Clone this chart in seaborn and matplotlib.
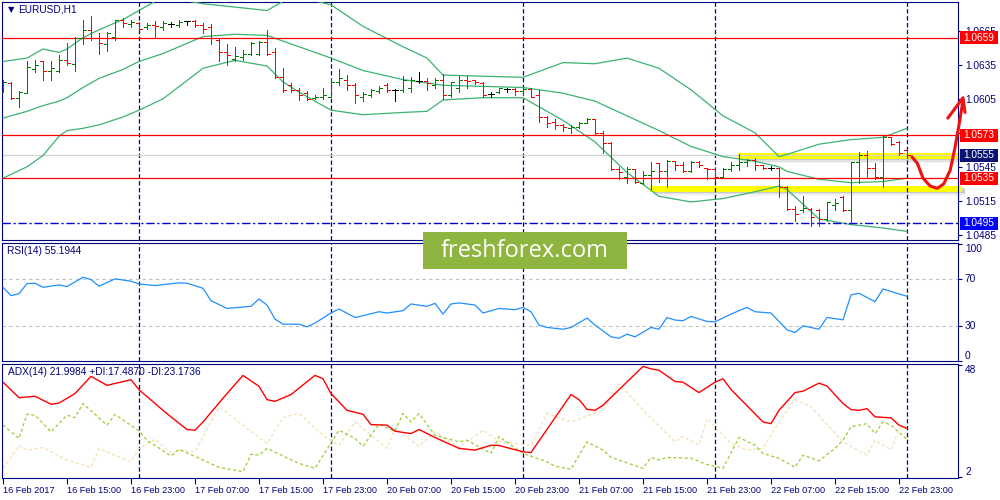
import numpy as np
import pandas as pd
import matplotlib
matplotlib.use("Agg")
import matplotlib.pyplot as plt
import matplotlib.transforms as mtransforms
from matplotlib.patches import Rectangle
import seaborn as sns

# EURUSD H1 bars, 16 Feb 07:00 .. 23 Feb 00:00
open_ = [1.0611, 1.0619, 1.0606, 1.0610, 1.0631, 1.0638, 1.0630, 1.0630, 1.0639, 1.0636,
         1.0659, 1.0666, 1.0659, 1.0653, 1.0660, 1.0675, 1.0671, 1.0672, 1.0668, 1.0670,
         1.0668, 1.0671, 1.0670, 1.0674, 1.0674, 1.0670, 1.0668, 1.0657, 1.0646, 1.0640,
         1.0642, 1.0645, 1.0645, 1.0655, 1.0646, 1.0624, 1.0617, 1.0613, 1.0610, 1.0606,
         1.0607, 1.0607, 1.0620, 1.0622, 1.0617, 1.0607, 1.0608, 1.0612, 1.0617, 1.0613,
         1.0613, 1.0615, 1.0621, 1.0621, 1.0617, 1.0622, 1.0608, 1.0615, 1.0622, 1.0622,
         1.0619, 1.0609, 1.0611, 1.0614, 1.0614, 1.0612, 1.0614, 1.0608, 1.0589, 1.0585,
         1.0582, 1.0579, 1.0580, 1.0584, 1.0587, 1.0575, 1.0566, 1.0543, 1.0536, 1.0543,
         1.0531, 1.0538, 1.0548, 1.0541, 1.0550, 1.0547, 1.0541, 1.0549, 1.0544, 1.0543,
         1.0536, 1.0543, 1.0547, 1.0549, 1.0551, 1.0547, 1.0544, 1.0544, 1.0527, 1.0508,
         1.0507, 1.0508, 1.0507, 1.0499, 1.0511, 1.0518, 1.0507, 1.0549, 1.0555, 1.0544,
         1.0536, 1.0571, 1.0567, 1.0560]
high_ = [1.0622, 1.0620, 1.0612, 1.0638, 1.0639, 1.0638, 1.0638, 1.0644, 1.0654, 1.0660,
         1.0675, 1.0678, 1.0663, 1.0664, 1.0675, 1.0676, 1.0675, 1.0673, 1.0672, 1.0674,
         1.0674, 1.0673, 1.0675, 1.0674, 1.0675, 1.0672, 1.0671, 1.0659, 1.0653, 1.0651,
         1.0648, 1.0655, 1.0656, 1.0666, 1.0650, 1.0632, 1.0619, 1.0615, 1.0612, 1.0608,
         1.0615, 1.0623, 1.0631, 1.0626, 1.0619, 1.0611, 1.0614, 1.0616, 1.0619, 1.0614,
         1.0625, 1.0624, 1.0629, 1.0623, 1.0623, 1.0627, 1.0620, 1.0625, 1.0625, 1.0622,
         1.0620, 1.0611, 1.0615, 1.0615, 1.0615, 1.0615, 1.0615, 1.0613, 1.0590, 1.0587,
         1.0583, 1.0582, 1.0585, 1.0588, 1.0587, 1.0577, 1.0567, 1.0545, 1.0545, 1.0543,
         1.0541, 1.0549, 1.0548, 1.0551, 1.0550, 1.0549, 1.0550, 1.0550, 1.0544, 1.0544,
         1.0544, 1.0549, 1.0556, 1.0552, 1.0553, 1.0547, 1.0546, 1.0544, 1.0528, 1.0510,
         1.0519, 1.0509, 1.0508, 1.0514, 1.0517, 1.0519, 1.0549, 1.0558, 1.0559, 1.0548,
         1.0573, 1.0571, 1.0568, 1.0561]
low_ = [1.0611, 1.0605, 1.0598, 1.0610, 1.0629, 1.0622, 1.0622, 1.0629, 1.0635, 1.0630,
        1.0653, 1.0657, 1.0645, 1.0647, 1.0657, 1.0668, 1.0668, 1.0666, 1.0667, 1.0659,
        1.0666, 1.0668, 1.0668, 1.0670, 1.0668, 1.0663, 1.0653, 1.0638, 1.0635, 1.0638,
        1.0639, 1.0644, 1.0644, 1.0644, 1.0623, 1.0611, 1.0611, 1.0604, 1.0604, 1.0605,
        1.0605, 1.0607, 1.0617, 1.0613, 1.0601, 1.0603, 1.0607, 1.0610, 1.0611, 1.0603,
        1.0611, 1.0611, 1.0619, 1.0613, 1.0615, 1.0605, 1.0607, 1.0611, 1.0615, 1.0618,
        1.0607, 1.0607, 1.0610, 1.0611, 1.0608, 1.0608, 1.0607, 1.0585, 1.0580, 1.0578,
        1.0577, 1.0575, 1.0579, 1.0584, 1.0573, 1.0557, 1.0542, 1.0534, 1.0531, 1.0531,
        1.0530, 1.0525, 1.0532, 1.0527, 1.0542, 1.0540, 1.0540, 1.0545, 1.0534, 1.0533,
        1.0535, 1.0541, 1.0542, 1.0546, 1.0542, 1.0543, 1.0542, 1.0518, 1.0507, 1.0497,
        1.0505, 1.0493, 1.0493, 1.0497, 1.0507, 1.0506, 1.0495, 1.0531, 1.0535, 1.0534,
        1.0527, 1.0564, 1.0555, 1.0553]
close_ = [1.0620, 1.0606, 1.0611, 1.0633, 1.0635, 1.0630, 1.0632, 1.0639, 1.0637, 1.0659,
          1.0666, 1.0659, 1.0654, 1.0663, 1.0675, 1.0672, 1.0673, 1.0667, 1.0670, 1.0669,
          1.0672, 1.0671, 1.0673, 1.0674, 1.0670, 1.0667, 1.0659, 1.0646, 1.0644, 1.0643,
          1.0645, 1.0654, 1.0655, 1.0645, 1.0624, 1.0613, 1.0613, 1.0608, 1.0605, 1.0607,
          1.0608, 1.0620, 1.0623, 1.0617, 1.0608, 1.0609, 1.0613, 1.0615, 1.0613, 1.0613,
          1.0622, 1.0622, 1.0621, 1.0619, 1.0622, 1.0608, 1.0620, 1.0622, 1.0621, 1.0620,
          1.0608, 1.0609, 1.0615, 1.0614, 1.0612, 1.0614, 1.0607, 1.0589, 1.0584, 1.0582,
          1.0580, 1.0580, 1.0584, 1.0587, 1.0575, 1.0566, 1.0543, 1.0540, 1.0543, 1.0532,
          1.0538, 1.0541, 1.0541, 1.0550, 1.0547, 1.0541, 1.0549, 1.0547, 1.0543, 1.0536,
          1.0543, 1.0547, 1.0549, 1.0551, 1.0547, 1.0544, 1.0544, 1.0527, 1.0508, 1.0503,
          1.0509, 1.0501, 1.0499, 1.0514, 1.0513, 1.0507, 1.0549, 1.0555, 1.0544, 1.0536,
          1.0571, 1.0565, 1.0557, 1.0555]

# Bollinger bands, read at these bars
bb_bars = [0, 3, 5, 7, 8, 10, 12, 15, 17, 20, 25, 29, 33, 35, 37, 41, 45, 50, 53, 55,
           60, 65, 70, 74, 78, 82, 86, 90, 94, 97, 98, 102, 106, 110, 113]
bb_upper = [1.0638, 1.0641, 1.0649, 1.0646, 1.0649, 1.0659, 1.0666, 1.0675, 1.0683, 1.0695,
            1.0689, 1.0686, 1.0683, 1.0691, 1.0695, 1.0688, 1.0669, 1.0651, 1.0641, 1.0626,
            1.0625, 1.0624, 1.0637, 1.0636, 1.0641, 1.0632, 1.0613, 1.0590, 1.0575, 1.0554,
            1.0556, 1.0565, 1.0569, 1.0571, 1.0579]
bb_mid = [1.0588, 1.0594, 1.0599, 1.0603, 1.0606, 1.0615, 1.0623, 1.0631, 1.0638, 1.0645,
          1.0660, 1.0662, 1.0661, 1.0656, 1.0651, 1.0641, 1.0630, 1.0622, 1.0619, 1.0617,
          1.0616, 1.0615, 1.0610, 1.0603, 1.0590, 1.0577, 1.0563, 1.0554, 1.0550, 1.0545,
          1.0541, 1.0534, 1.0531, 1.0532, 1.0535]
bb_lower = [1.0535, 1.0545, 1.0555, 1.0572, 1.0577, 1.0579, 1.0582, 1.0589, 1.0595, 1.0605,
            1.0632, 1.0639, 1.0634, 1.0620, 1.0611, 1.0595, 1.0591, 1.0593, 1.0594, 1.0604,
            1.0606, 1.0606, 1.0586, 1.0567, 1.0540, 1.0519, 1.0514, 1.0517, 1.0523, 1.0528,
            1.0525, 1.0499, 1.0494, 1.0491, 1.0488]

rsi_bars = [0, 1, 2, 3, 4, 5, 7, 8, 10, 11, 12, 14, 16, 17, 19, 22, 23, 25, 26, 28,
            31, 32, 33, 34, 35, 37, 38, 39, 41, 42, 44, 45, 47, 48, 50, 51, 53, 54, 55, 56,
            57, 59, 60, 62, 64, 65, 66, 67, 68, 70, 71, 73, 74, 76, 77, 78, 79, 81, 82, 83,
            84, 85, 86, 88, 89, 91, 93, 94, 96, 98, 99, 100, 102, 103, 105, 106, 107, 109, 110, 112,
            113]
rsi_vals = [62.8, 55.7, 57.4, 66.0, 66.3, 62.8, 64.9, 63.4, 71.4, 69.4, 63.7, 70.0, 68.0, 65.7, 64.3,
            66.6, 66.3, 62.0, 51.4, 44.8, 46.6, 52.9, 47.7, 35.7, 31.4, 31.4, 29.1, 32.3, 40.9, 44.3,
            37.1, 38.6, 42.0, 40.9, 42.9, 48.6, 46.6, 49.1, 40.0, 48.6, 49.5, 47.7, 40.9, 44.8, 43.7,
            45.7, 42.0, 30.6, 28.6, 27.1, 28.6, 36.6, 30.6, 20.6, 19.4, 22.9, 20.6, 28.6, 27.1, 37.1,
            34.9, 34.3, 38.0, 33.7, 33.4, 40.0, 45.7, 42.0, 40.9, 26.6, 24.3, 30.0, 27.1, 37.1, 35.1,
            56.3, 57.7, 50.6, 61.4, 57.1, 55.2]

adx_bars = [0, 2, 4, 6, 7, 9, 11, 13, 16, 17, 20, 21, 23, 24, 25, 28, 30, 32, 33, 34,
            36, 39, 40, 41, 43, 45, 46, 48, 49, 51, 52, 54, 57, 59, 61, 62, 65, 66, 71, 72,
            73, 74, 75, 80, 81, 82, 84, 85, 87, 89, 90, 91, 95, 96, 97, 99, 100, 102, 103, 105,
            106, 107, 108, 109, 111, 112, 113]
adx_vals = [41.1, 34.7, 35.3, 32.0, 32.5, 36.4, 43.5, 39.8, 42.1, 38.0, 29.5, 26.8, 21.6, 21.3, 24.7,
            36.4, 43.9, 39.4, 33.9, 33.2, 36.0, 43.9, 42.5, 36.4, 29.5, 27.9, 23.6, 23.4, 20.9, 19.9,
            21.6, 18.3, 13.8, 13.1, 15.1, 15.0, 12.4, 12.1, 36.0, 33.9, 29.9, 29.5, 31.6, 47.6, 46.6,
            46.0, 41.4, 41.1, 36.8, 41.1, 42.5, 38.1, 24.7, 24.0, 29.5, 36.8, 37.4, 40.7, 39.5, 32.3,
            29.8, 29.5, 30.2, 26.8, 26.4, 23.4, 22.0]
pdi_bars = [0, 2, 3, 4, 6, 8, 9, 10, 13, 14, 17, 18, 21, 22, 25, 27, 30, 31, 32, 33,
            37, 39, 42, 44, 45, 47, 49, 50, 51, 52, 54, 57, 58, 61, 62, 65, 68, 69, 71, 73,
            75, 76, 80, 81, 82, 83, 86, 88, 90, 92, 94, 95, 97, 99, 100, 102, 104, 105, 106, 108,
            109, 110, 111, 113]
pdi_vals = [23.4, 17.9, 27.9, 27.5, 20.6, 27.5, 26.5, 32.3, 23.4, 27.8, 21.0, 17.2, 10.7, 13.4, 9.0,
            6.0, 4.2, 11.4, 11.0, 13.8, 7.6, 5.6, 21.3, 17.9, 14.7, 23.8, 20.9, 28.2, 24.7, 28.2,
            19.2, 16.5, 17.2, 11.7, 18.7, 11.7, 8.3, 6.5, 5.2, 16.5, 13.1, 10.1, 5.6, 10.1, 9.0,
            10.1, 9.7, 7.2, 5.6, 18.3, 15.1, 11.7, 9.7, 6.0, 11.0, 8.7, 13.8, 17.2, 22.7, 24.0,
            19.9, 24.7, 23.4, 17.5]
mdi_bars = [0, 2, 3, 5, 8, 11, 12, 14, 16, 17, 19, 21, 22, 24, 27, 33, 35, 37, 40, 42,
            44, 48, 49, 52, 54, 57, 60, 62, 64, 66, 68, 71, 75, 77, 80, 84, 85, 87, 88, 91,
            93, 95, 97, 99, 101, 105, 108, 109, 111, 112, 113]
mdi_vals = [5.6, 15.1, 13.1, 14.2, 9.0, 6.0, 13.8, 11.0, 8.3, 13.8, 17.6, 12.0, 13.1, 12.4, 30.9,
            15.8, 26.5, 28.2, 19.2, 15.1, 24.7, 13.8, 22.0, 14.7, 20.6, 14.2, 21.3, 16.8, 15.8, 15.1,
            28.2, 24.7, 29.5, 40.5, 29.5, 16.5, 18.8, 15.1, 26.1, 15.8, 13.1, 13.8, 24.7, 33.9, 30.9,
            16.5, 11.0, 17.2, 13.1, 22.0, 23.2]

red_levels = [1.0659, 1.0573, 1.0535]
bid_price = 1.0555
low_level = 1.0495
scale_ticks = [1.0665, 1.0635, 1.0605, 1.0575, 1.0545, 1.0515, 1.0485]

# hand drawn arrow (bar, price)
arrow_x = [113.6, 114.3, 115.0, 115.9, 116.8, 117.6, 118.4, 119.0, 119.6, 120.0]
arrow_y = [1.0554, 1.0548, 1.0535, 1.0528, 1.0526, 1.0530, 1.0542, 1.0562, 1.0586, 1.0604]

times = list(pd.date_range("2017-02-16 07:00", "2017-02-17 23:00", freq="h")) + \
        list(pd.date_range("2017-02-20 00:00", "2017-02-23 00:00", freq="h"))
day_starts = [i for i, t in enumerate(times) if t.hour == 0]
xt = list(range(0, len(times), 8))
xt_labels = [times[i].strftime("%d %b %H:%M") for i in xt]
xt_labels[0] = "16 Feb 2017"

NAVY = "#000080"
sns.set_style("white")
plt.rcParams["font.family"] = ["Liberation Sans", "DejaVu Sans"]

fig = plt.figure(figsize=(10, 5), dpi=100)


def px_axes(x0, y0, x1, y1):
    return fig.add_axes([x0 / 1000, 1 - y1 / 500, (x1 - x0) / 1000, (y1 - y0) / 500])


ax_p = px_axes(2, 2, 958, 240)
ax_r = px_axes(2, 242.5, 958, 361)
ax_a = px_axes(2, 363.5, 958, 478)

for ax in (ax_p, ax_r, ax_a):
    ax.set_xlim(-0.125, 119.375)
    for s in ax.spines.values():
        s.set_color(NAVY)
        s.set_linewidth(0.8)
    ax.yaxis.tick_right()
    ax.tick_params(axis="y", right=True, length=3, width=0.8, color=NAVY,
                   labelcolor=NAVY, labelsize=7.3, pad=2)
    ax.tick_params(axis="x", bottom=False, labelbottom=False)
    for d in day_starts:
        ax.axvline(d, color=NAVY, lw=0.9, ls=(0, (3.5, 2)), zorder=2)

# ---- price panel ----
idx = np.arange(len(close_))
o, h, l, c = map(np.array, (open_, high_, low_, close_))
cols = np.where(c > o, "#008000", np.where(c < o, "#ff0000", "#000000"))
bar_kw = dict(colors=cols, lw=0.7, zorder=4, antialiased=False)
ax_p.vlines(idx, l, h, **bar_kw)
ax_p.hlines(o, idx - 0.4, idx, **bar_kw)
ax_p.hlines(c, idx, idx + 0.4, **bar_kw)

for band in (bb_upper, bb_mid, bb_lower):
    sns.lineplot(x=bb_bars, y=band, ax=ax_p, color="#3cb371", lw=0.9, zorder=3)

for lv in red_levels:
    ax_p.axhline(lv, color="#ff0000", lw=0.9, zorder=3)
ax_p.axhline(bid_price, color="#d3d3d3", lw=0.9, zorder=2)
ax_p.axhline(low_level, color="#0000cd", lw=1.0, ls=(0, (6, 2, 1.5, 2)), zorder=3)

# yellow zones with a soft shadow
zones = [(91.9, 1.0552, 1.0557), (80.9, 1.0523, 1.0528)]
for x0, y0, y1 in zones:
    for k, a in enumerate([0.18, 0.12, 0.07]):
        ax_p.add_patch(Rectangle((x0 + 0.3, y0 - 0.00012 * (k + 1)), 119.9 - x0, y1 - y0,
                                 fc="#606060", ec="none", alpha=a, zorder=1, clip_on=False))
    ax_p.add_patch(Rectangle((x0, y0), 119.9 - x0, y1 - y0, fc="#ffff00", ec="none",
                             zorder=1.5, clip_on=False))

ax_p.plot(arrow_x, arrow_y, color="#ee1111", lw=2.2, solid_capstyle="round",
          solid_joinstyle="round", clip_on=False, zorder=8)
ax_p.plot([118.1, 120.0, 120.25], [1.0588, 1.0606, 1.0593], color="#ee1111", lw=2.2,
          solid_capstyle="round", clip_on=False, zorder=8)

ax_p.set_ylim(1.04804, 1.06905)
ax_p.set_yticks(scale_ticks)
ax_p.set_yticklabels([f"{v:.4f}" for v in scale_ticks])

trans = mtransforms.blended_transform_factory(ax_p.transAxes, ax_p.transData)
tags = [(1.0659, "#ff0000"), (1.0573, "#ff0000"), (bid_price, "#0a1470"),
        (1.0535, "#ff0000"), (1.0495, "#0000ff")]
for price, bg in tags:
    ax_p.add_patch(Rectangle(((960 - 2) / 956, price - 0.00058), 38 / 956, 0.00116,
                             transform=trans, fc=bg, ec="none", clip_on=False, zorder=9))
    ax_p.text((963 - 2) / 956, price, f"{price:.4f}", transform=trans, color="white",
              fontsize=7.3, va="center", ha="left", clip_on=False, zorder=10)

# ---- RSI panel ----
sns.lineplot(x=rsi_bars, y=rsi_vals, ax=ax_r, color="#1e90ff", lw=0.9, zorder=3)
for lv in (70, 30):
    ax_r.axhline(lv, color="#c0c0c0", lw=0.8, ls=(0, (3, 3)), zorder=1)
ax_r.set_ylim(0, 101)
ax_r.set_yticks([100, 70, 30, 0])
ax_r.set_yticklabels(["100", "70", "30", "0"])
for t, va in zip(ax_r.get_yticklabels(), ["top", "center", "center", "bottom"]):
    t.set_va(va)

# ---- ADX panel ----
sns.lineplot(x=mdi_bars, y=mdi_vals, ax=ax_a, color="#f5deb3", lw=0.9, linestyle=(0, (2.5, 2)))
sns.lineplot(x=pdi_bars, y=pdi_vals, ax=ax_a, color="#9acd32", lw=0.9, linestyle=(0, (2.5, 2)))
sns.lineplot(x=adx_bars, y=adx_vals, ax=ax_a, color="#ff0000", lw=1.0)
ax_a.set_ylim(1.6, 48.8)
ax_a.set_yticks([48, 2])
ax_a.set_yticklabels(["48", "2"])
for t, va in zip(ax_a.get_yticklabels(), ["top", "bottom"]):
    t.set_va(va)
ax_a.set_xticks(xt)
ax_a.set_xticklabels(xt_labels)
ax_a.tick_params(axis="x", bottom=True, labelbottom=True, length=4, width=0.8, color=NAVY,
                 labelcolor=NAVY, labelsize=6.6, pad=2)
for t in ax_a.get_xticklabels():
    t.set_ha("left")

for ax in (ax_p, ax_r, ax_a):
    ax.set_xlabel("")
    ax.set_ylabel("")

# ---- panel captions ----
def fig_text(px, py, s, **kw):
    fig.text(px / 1000, 1 - py / 500, s, va="center", ha="left", color=NAVY, **kw)


fig_text(8, 10, "\u25bc", fontsize=6, family="DejaVu Sans")
fig_text(18, 10, "EURUSD,H1", fontsize=7.3)
fig_text(7, 251, "RSI(14) 55.1944", fontsize=7.3)
fig_text(8, 372, "ADX(14) 21.9984 +DI:17.4870 -DI:23.1736", fontsize=7.3)

# ---- watermark ----
fig.add_artist(Rectangle((423 / 1000, 1 - 269 / 500), 204 / 1000, 37 / 500,
                         transform=fig.transFigure, fc="#8db53f", ec="none", zorder=20))
fig.text(525 / 1000, 1 - 251 / 500, "freshforex.com", color="white", fontsize=17,
         family=["Open Sans", "DejaVu Sans"], ha="center", va="center", zorder=21)

fig.savefig("out.png", dpi=100)
